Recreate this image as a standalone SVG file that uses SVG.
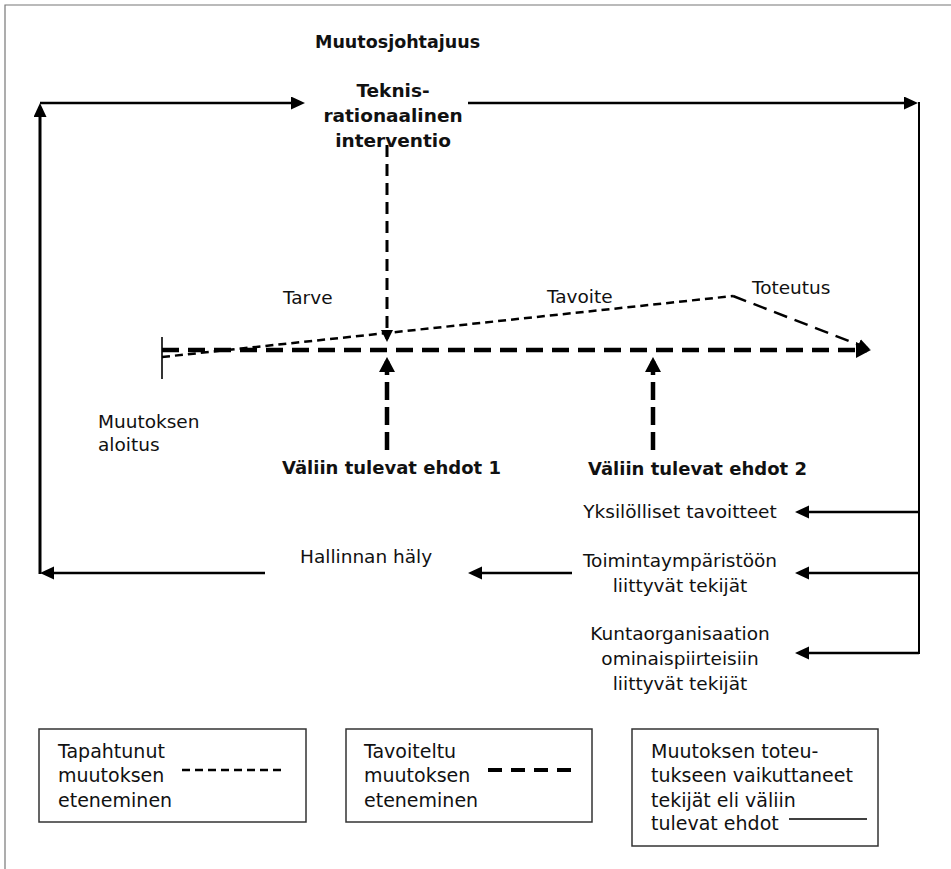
<svg xmlns="http://www.w3.org/2000/svg" width="951" height="869" viewBox="0 0 951 869">
  <style>
    text { font-family: "DejaVu Sans", Verdana, sans-serif; fill: #111; }
    .lbl { font-size: 18.5px; }
    .leg { font-size: 19px; }
    .head { font-size: 18.5px; font-weight: bold; }
    .cond { font-size: 18px; font-weight: bold; }
    .mid { text-anchor: middle; }
    .solid { fill: none; stroke: #000; stroke-width: 2.5; }
    .thin { fill: none; stroke: #000; stroke-width: 1.6; }
    .actual { fill: none; stroke: #000; stroke-width: 2.5; stroke-dasharray: 8 5; }
    .target { fill: none; stroke: #000; stroke-width: 4.5; stroke-dasharray: 17 9; }
    .cause { fill: none; stroke: #000; stroke-width: 4.5; stroke-dasharray: 18 7; }
    .box { fill: none; stroke: #333; stroke-width: 1.5; }
  </style>
  <defs>
    <marker id="arr" markerUnits="userSpaceOnUse" markerWidth="16" markerHeight="16" refX="10" refY="6.5" orient="auto">
      <path d="M0,0 L14,6.5 L0,13 z" fill="#000"/>
    </marker>
    <marker id="arrBig" markerUnits="userSpaceOnUse" markerWidth="18" markerHeight="18" refX="11" refY="8" orient="auto">
      <path d="M0,0 L15,8 L0,16 z" fill="#000"/>
    </marker>
    <marker id="arrSm" markerUnits="userSpaceOnUse" markerWidth="14" markerHeight="14" refX="9" refY="6" orient="auto">
      <path d="M0,0 L12,6 L0,12 z" fill="#000"/>
    </marker>
  </defs>

  <!-- page frame -->
  <path d="M5,869 V5 H951" fill="none" stroke="#777" stroke-width="1.2"/>

  <g id="connectors">
    <!-- outer feedback loop -->
    <path class="solid" d="M265,573 H44" marker-end="url(#arr)"/>
    <path class="solid" style="stroke-width:3" d="M40,574 V107" marker-end="url(#arr)"/>
    <path class="solid" d="M40,103 H301" marker-end="url(#arr)"/>
    <path class="solid" d="M468,103 H914" marker-end="url(#arr)"/>
    <path class="thin" style="stroke-width:2" d="M919,102 V654"/>
    <path class="solid" d="M919,512 H799" marker-end="url(#arr)"/>
    <path class="solid" d="M919,573 H799" marker-end="url(#arr)"/>
    <path class="solid" d="M919,653 H799" marker-end="url(#arr)"/>
    <path class="solid" d="M572,573 H472" marker-end="url(#arr)"/>

    <!-- start tick -->
    <path class="thin" d="M162,337 V379"/>
    <!-- targeted progress -->
    <path class="target" d="M162,350 H867" marker-end="url(#arrBig)"/>
    <!-- actual progress -->
    <path class="actual" d="M162,357 L733,296"/>
    <path class="actual" style="stroke-dasharray:14 8" d="M733,296 L867,348" marker-end="url(#arrSm)"/>
    <!-- intervention -->
    <path class="actual" style="stroke-width:3;stroke-dasharray:12 7" d="M387,145 V339" marker-end="url(#arrSm)"/>
    <!-- intervening conditions -->
    <path class="cause" d="M387,450 V361" marker-end="url(#arrBig)"/>
    <path class="cause" d="M653,450 V361" marker-end="url(#arrBig)"/>
  </g>

  <g id="title">
    <text class="head" x="315" y="48" style="font-size:17.5px">Muutosjohtajuus</text>
  </g>

  <g id="intervention">
    <text class="head mid" x="393" y="97">Teknis-</text>
    <text class="head mid" x="393" y="122">rationaalinen</text>
    <text class="head mid" x="393" y="147">interventio</text>
  </g>

  <g id="phases">
    <text class="lbl" x="283" y="304">Tarve</text>
    <text class="lbl" x="547" y="303">Tavoite</text>
    <text class="lbl" x="752" y="294">Toteutus</text>
  </g>

  <g id="start">
    <text class="lbl" x="98" y="428">Muutoksen</text>
    <text class="lbl" x="98" y="451">aloitus</text>
  </g>

  <g id="condition-1">
    <text class="cond" x="282" y="474">Väliin tulevat ehdot 1</text>
  </g>
  <g id="condition-2">
    <text class="cond" x="588" y="475">Väliin tulevat ehdot 2</text>
  </g>

  <g id="individual-goals">
    <text class="lbl mid" x="680" y="518">Yksilölliset tavoitteet</text>
  </g>
  <g id="environment">
    <text class="lbl mid" x="680" y="567">Toimintaympäristöön</text>
    <text class="lbl mid" x="680" y="592">liittyvät tekijät</text>
  </g>
  <g id="organisation">
    <text class="lbl mid" x="680" y="640">Kuntaorganisaation</text>
    <text class="lbl mid" x="680" y="665">ominaispiirteisiin</text>
    <text class="lbl mid" x="680" y="690">liittyvät tekijät</text>
  </g>
  <g id="management-noise">
    <text class="lbl" x="300" y="563">Hallinnan häly</text>
  </g>

  <g id="legend-actual">
    <rect class="box" x="39" y="729" width="267" height="93"/>
    <text class="leg" x="58" y="758">Tapahtunut</text>
    <text class="leg" x="58" y="782">muutoksen</text>
    <text class="leg" x="58" y="807">eteneminen</text>
    <path class="actual" d="M182,770 H286"/>
  </g>
  <g id="legend-target">
    <rect class="box" x="346" y="729" width="246" height="93"/>
    <text class="leg" x="364" y="758">Tavoiteltu</text>
    <text class="leg" x="364" y="782">muutoksen</text>
    <text class="leg" x="364" y="807">eteneminen</text>
    <path class="target" style="stroke-width:4;stroke-dasharray:14 9" d="M488,770 H573"/>
  </g>
  <g id="legend-conditions">
    <rect class="box" x="632" y="729" width="246" height="117"/>
    <text class="leg" x="651" y="758">Muutoksen toteu-</text>
    <text class="leg" x="651" y="782">tukseen vaikuttaneet</text>
    <text class="leg" x="651" y="807">tekijät eli väliin</text>
    <text class="leg" x="651" y="830">tulevat ehdot</text>
    <path class="thin" style="stroke-width:1.5" d="M789,819 H867"/>
  </g>
</svg>
